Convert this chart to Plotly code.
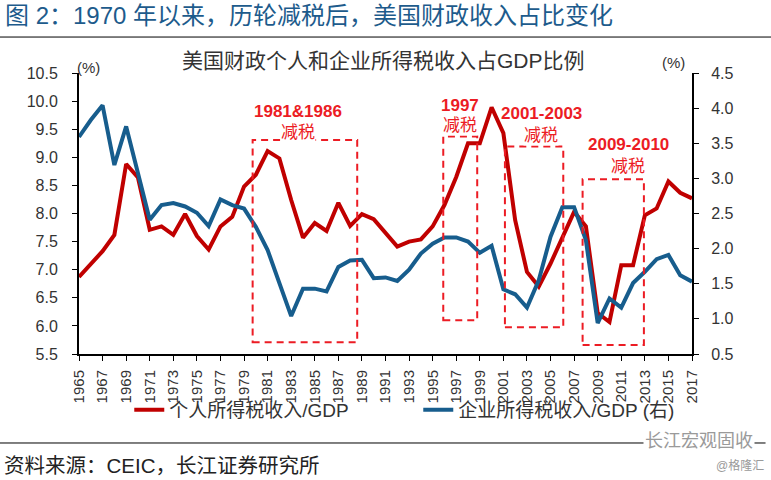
import plotly.graph_objects as go

years = list(range(1965, 2018))
personal = [6.87, 7.11, 7.33, 7.62, 8.88, 8.64, 7.71, 7.77, 7.62, 7.99,
            7.60, 7.36, 7.77, 7.94, 8.48, 8.69, 9.11, 8.98, 8.24, 7.57,
            7.83, 7.69, 8.19, 7.78, 7.99, 7.90, 7.65, 7.41, 7.50, 7.54,
            7.77, 8.15, 8.65, 9.25, 9.25, 9.89, 9.43, 7.88, 6.96, 6.70,
            7.11, 7.56, 8.03, 7.77, 6.23, 6.07, 7.08, 7.08, 7.97, 8.09,
            8.57, 8.37, 8.27]
corporate = [3.59, 3.83, 4.04, 3.19, 3.74, 3.10, 2.41, 2.62, 2.65, 2.60,
             2.51, 2.32, 2.70, 2.62, 2.57, 2.31, 1.98, 1.51, 1.04, 1.43,
             1.43, 1.39, 1.74, 1.83, 1.84, 1.58, 1.59, 1.54, 1.70, 1.93,
             2.07, 2.16, 2.16, 2.10, 1.94, 2.04, 1.42, 1.35, 1.16, 1.55,
             2.17, 2.59, 2.59, 2.12, 0.94, 1.29, 1.16, 1.51, 1.67, 1.85,
             1.91, 1.62, 1.53]
x_ticks = list(range(1965, 2018, 2))
left_ticks = [5.5, 6.0, 6.5, 7.0, 7.5, 8.0, 8.5, 9.0, 9.5, 10.0, 10.5]
right_ticks = [0.5, 1.0, 1.5, 2.0, 2.5, 3.0, 3.5, 4.0, 4.5]

# tax-cut periods: label, x0, x1, y_top, y_bottom (left axis units)
periods = [
    ("1981&1986", 1979.73, 1988.6, 9.31, 5.71),
    ("1997", 1995.9, 1998.78, 9.37, 6.10),
    ("2001-2003", 2001.13, 2006.08, 9.19, 5.975),
    ("2009-2010", 2007.72, 2012.92, 8.61, 5.66),
]
label_pos = [(1983.6, 9.81, 9.44), (1997.3, 9.93, 9.56),
             (2004.2, 9.78, 9.38), (2011.6, 9.22, 8.83)]

FONT = "Liberation Sans, Arial, Noto Sans CJK SC, sans-serif"
RED = "#c00000"
BLUE = "#175d8d"
ANN = "#ec1c24"
TXT = "#333333"

fig = go.Figure()
fig.add_trace(go.Scatter(x=years, y=personal, mode="lines", name="个人所得税收入/GDP",
                         line=dict(color=RED, width=4)))
fig.add_trace(go.Scatter(x=years, y=corporate, mode="lines", name="企业所得税收入/GDP (右)",
                         line=dict(color=BLUE, width=4), yaxis="y2"))

for (lab, x0, x1, yt, yb) in periods:
    fig.add_shape(type="rect", xref="x", yref="y", x0=x0, x1=x1, y0=yb, y1=yt,
                  line=dict(color=ANN, width=2, dash="7px,5px"), layer="above")

for (lab, *_), (lx, ly1, ly2) in zip(periods, label_pos):
    fig.add_annotation(x=lx, y=ly1, xref="x", yref="y", text="<b>%s</b>" % lab,
                       showarrow=False, font=dict(size=17, color=ANN, family=FONT))
    fig.add_annotation(x=lx, y=ly2, xref="x", yref="y", text="减税",
                       showarrow=False, bgcolor="white", borderpad=0,
                       font=dict(size=17, color=ANN, family=FONT))

# titles and texts
fig.add_annotation(xref="paper", yref="paper", x=-0.124, y=1.206, xanchor="left", yanchor="middle",
                   text="图 2：1970 年以来，历轮减税后，美国财政收入占比变化", showarrow=False,
                   font=dict(size=24, color="#1d5b8c", family=FONT))
fig.add_annotation(xref="paper", yref="paper", x=0.497, y=1.046, xanchor="center", yanchor="middle",
                   text="美国财政个人和企业所得税收入占GDP比例", showarrow=False,
                   font=dict(size=21, color=TXT, family=FONT))
fig.add_annotation(xref="paper", yref="paper", x=-0.006, y=1.018, xanchor="left", yanchor="middle",
                   text="(%)", showarrow=False, font=dict(size=15, color=TXT, family=FONT))
fig.add_annotation(xref="paper", yref="paper", x=0.97, y=1.036, xanchor="center", yanchor="middle",
                   text="(%)", showarrow=False, font=dict(size=15, color=TXT, family=FONT))
fig.add_annotation(xref="paper", yref="paper", x=-0.126, y=-0.398, xanchor="left", yanchor="middle",
                   text="资料来源：CEIC，长江证券研究所", showarrow=False,
                   font=dict(size=20.5, color="#222222", family=FONT))
fig.add_annotation(xref="paper", yref="paper", x=1.103, y=-0.31, xanchor="right", yanchor="middle",
                   text="长江宏观固收", showarrow=False, bgcolor="white",
                   font=dict(size=18, color="#9a9a9a", family=FONT))
fig.add_annotation(xref="paper", yref="paper", x=1.12, y=-0.398, xanchor="right", yanchor="middle",
                   text="@格隆汇", showarrow=False,
                   font=dict(size=12, color="#9a9a9a", family=FONT))

# separator lines
fig.add_shape(type="line", xref="paper", yref="paper", x0=-0.1289, x1=1.1289, y0=1.128, y1=1.128,
              line=dict(color="black", width=1))
fig.add_shape(type="line", xref="paper", yref="paper", x0=-0.1289, x1=1.12, y0=-0.3167, y1=-0.3167,
              line=dict(color="black", width=1), layer="below")

axis_common = dict(showgrid=False, zeroline=False, showline=True, linecolor="black", linewidth=2,
                   ticks="outside", ticklen=5, tickcolor="black", tickwidth=1, automargin=False)

fig.update_layout(
    width=771, height=480,
    margin=dict(l=79, r=79, t=73, b=126, autoexpand=False),
    plot_bgcolor="white", paper_bgcolor="white",
    font=dict(family=FONT, color=TXT),
    xaxis=dict(range=[1965, 2017], tickvals=x_ticks, ticktext=[str(v) for v in x_ticks],
               tickangle=-90, ticklabelstandoff=3,
               tickfont=dict(size=15, color=TXT, family=FONT), **axis_common),
    yaxis=dict(range=[5.5, 10.5], tickvals=left_ticks, tickformat=".1f",
               ticklabelstandoff=11, tickfont=dict(size=16, color=TXT, family=FONT), **axis_common),
    yaxis2=dict(range=[0.5, 4.5], tickvals=right_ticks, tickformat=".1f", overlaying="y",
                side="right", ticklabelstandoff=9,
                tickfont=dict(size=16, color=TXT, family=FONT), **axis_common),
    legend=dict(orientation="h", x=0.082, y=-0.199, xanchor="left", yanchor="middle",
                font=dict(size=19, color=TXT, family=FONT), entrywidth=244,
                bgcolor="rgba(0,0,0,0)"),
    showlegend=True,
)

fig.write_html("out.html", config={"displayModeBar": False},
               post_script="document.body.style.margin='0';")
